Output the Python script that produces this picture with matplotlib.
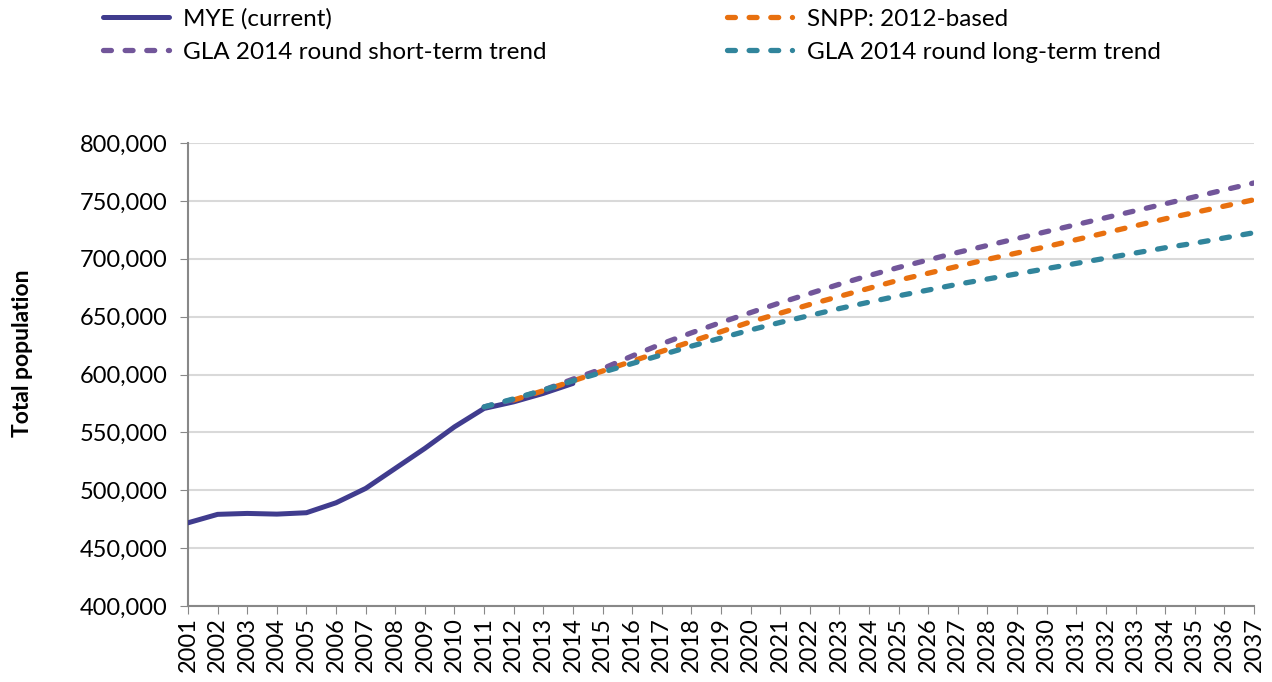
import matplotlib
matplotlib.use('Agg')
import matplotlib.pyplot as plt
from matplotlib.ticker import FuncFormatter

plt.rcParams['font.family'] = ['Lato', 'DejaVu Sans']

# MYE (current), 2001-2014
mye_years = list(range(2001, 2015))
mye = [471900, 479200, 480000, 479400, 480600, 489200, 501600, 518900,
       536200, 554800, 570700, 576400, 583700, 592300]

# GLA 2014 round short-term trend, 2011-2037
short_years = list(range(2011, 2038))
short_term = [572000, 578500, 586500, 596000, 605000, 616000, 626500, 636000,
              645000, 653500, 662000, 670000, 678000, 685500, 692500, 699000,
              705500, 711500, 717500, 723500, 729500, 735500, 741500, 747500,
              753500, 759500, 765500]

# SNPP 2012-based, 2012-2037
snpp_years = list(range(2012, 2038))
snpp = [578000, 586000, 594500, 603000, 611500, 620000, 628500, 637000,
        645500, 653000, 660500, 667500, 674500, 681500, 687500, 693500,
        699500, 705000, 710500, 716500, 722500, 728500, 734500, 740000,
        745500, 751000]

# GLA 2014 round long-term trend, 2011-2037
long_years = list(range(2011, 2038))
long_term = [572000, 579000, 586500, 594500, 602000, 609500, 617000, 624500,
             631500, 638500, 645000, 651000, 657000, 662500, 668000, 673000,
             678000, 682500, 687000, 691500, 696000, 700500, 705000, 709500,
             713500, 718000, 722500]

years = list(range(2001, 2038))

fig = plt.figure(figsize=(12.72, 6.82), dpi=100)
ax = fig.add_axes([0.1478, 0.1114, 0.838, 0.6789])

dash = (1.5, 2.6)
l1, = ax.plot(mye_years, mye, color='#403C8E', lw=3.6, solid_capstyle='round',
              label='MYE (current)', zorder=3)
l3, = ax.plot(snpp_years, snpp, color='#E8700F', lw=3.8, dashes=dash,
              dash_capstyle='round', label='SNPP: 2012-based', zorder=4)
l2, = ax.plot(short_years, short_term, color='#72569A', lw=3.8, dashes=dash,
              dash_capstyle='round', label='GLA 2014 round short-term trend', zorder=4)
l4, = ax.plot(long_years, long_term, color='#31859C', lw=3.8, dashes=dash,
              dash_capstyle='round', label='GLA 2014 round long-term trend', zorder=5)

ax.set_xlim(2001, 2037)
ax.set_ylim(400000, 800000)
ax.set_yticks(range(400000, 800001, 50000))
ax.yaxis.set_major_formatter(FuncFormatter(lambda v, p: '{:,.0f}'.format(v)))
ax.set_xticks(years)
ax.set_xticklabels([str(y) for y in years], rotation=90)
ax.tick_params(axis='both', labelsize=17, length=6, direction='out',
               colors='#888888', labelcolor='black')
ax.tick_params(axis='y', pad=9)
ax.tick_params(axis='x', pad=2)
ax.grid(axis='y', color='#d9d9d9', lw=1.5)
ax.set_axisbelow(True)
for s in ['top', 'right']:
    ax.spines[s].set_visible(False)
for s in ['left', 'bottom']:
    ax.spines[s].set_color('#888888')
    ax.spines[s].set_linewidth(1.5)

ax.set_ylabel('Total population', fontsize=16.5, fontweight='bold')
ax.yaxis.set_label_coords(-0.145, 0.545)

fig.legend(handles=[l1, l2, l3, l4], loc='upper left', ncol=2,
           bbox_to_anchor=(0.064, 1.02), frameon=False, fontsize=17.5,
           handlelength=2.7, columnspacing=7.4, labelspacing=0.5,
           handletextpad=0.6)

fig.savefig('out.png', dpi=100)
